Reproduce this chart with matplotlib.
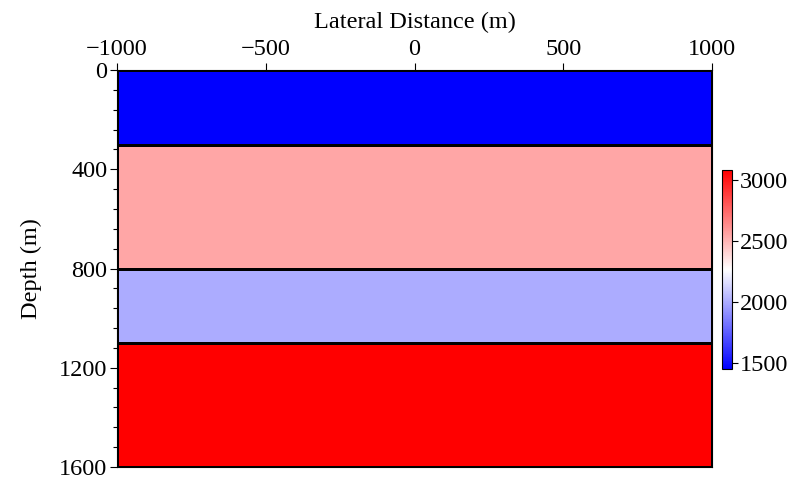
import matplotlib
matplotlib.use('Agg')
import matplotlib.pyplot as plt
import numpy as np
from matplotlib.ticker import MultipleLocator

# Layered velocity model
x_edges = [-1000, 1000]
layer_tops = [0, 300, 800, 1100]
layer_bottoms = [300, 800, 1100, 1600]
velocities = [1450, 2550, 2000, 3100]
vmin, vmax = 1450, 3080

plt.rcParams['font.family'] = ['Liberation Serif', 'DejaVu Serif']
plt.rcParams['font.size'] = 17.5

fig = plt.figure(figsize=(7.95, 4.8), dpi=100)
ax = fig.add_axes([0.147, 0.027, 0.749, 0.827])

depth_edges = np.array(layer_tops + [layer_bottoms[-1]])
vel_grid = np.array(velocities).reshape(-1, 1)
mesh = ax.pcolormesh(x_edges, depth_edges, vel_grid, cmap='bwr',
                     vmin=vmin, vmax=vmax, edgecolors='k', linewidth=0.8)

ax.set_xlim(-1000, 1000)
ax.set_ylim(1600, 0)
for s in ax.spines.values():
    s.set_linewidth(0.8)
ax.xaxis.tick_top()
ax.xaxis.set_label_position('top')
ax.set_xticks([-1000, -500, 0, 500, 1000])
ax.set_yticks([0, 400, 800, 1200, 1600])
ax.yaxis.set_minor_locator(MultipleLocator(80))
ax.tick_params(axis='both', which='major', direction='out', length=5, width=0.8, pad=2)
ax.tick_params(axis='y', which='minor', direction='out', length=3, width=0.8)
ax.set_xlabel('Lateral Distance (m)', labelpad=8)
ax.set_ylabel('Depth (m)', labelpad=12)

cax = fig.add_axes([0.908, 0.231, 0.0126, 0.415])
cb = fig.colorbar(mesh, cax=cax, ticks=[1500, 2000, 2500, 3000])
cb.outline.set_linewidth(0.8)
cb.ax.tick_params(direction='out', length=4, width=0.8, pad=2)

fig.savefig('out.png', dpi=100)
